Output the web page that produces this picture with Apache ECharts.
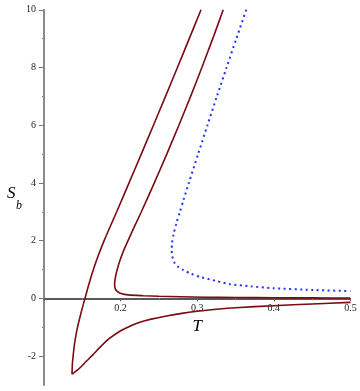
<!DOCTYPE html>
<html>
<head>
<meta charset="utf-8">
<script src="https://cdn.jsdelivr.net/npm/echarts@6/dist/echarts.min.js"></script>
<style>
  html, body { margin: 0; padding: 0; background: #fff; }
  #chart { width: 360px; height: 391px; }
</style>
</head>
<body>
<div id="chart"></div>
<script>
// curve data, [T, S_b]
const leftUpper = [
  [0.305, 10], [0.2896, 9], [0.2742, 8], [0.2586, 7], [0.2429, 6],
  [0.227, 5], [0.211, 4], [0.1949, 3], [0.1866, 2.5], [0.1785, 2],
  [0.1711, 1.5], [0.1645, 1], [0.1587, 0.5], [0.1535, 0], [0.1484, -0.5],
  [0.1438, -1], [0.1403, -1.5], [0.138, -2], [0.137, -2.3], [0.1366, -2.63]
]
const leftLower = [
  [0.1366, -2.63], [0.14, -2.56], [0.144, -2.48], [0.148, -2.38],
  [0.155, -2.19], [0.164, -1.95], [0.173, -1.7], [0.185, -1.4],
  [0.199, -1.14], [0.21, -0.99], [0.225, -0.83], [0.24, -0.72],
  [0.26, -0.61], [0.28, -0.52], [0.3, -0.45], [0.325, -0.38],
  [0.35, -0.325], [0.4, -0.255], [0.45, -0.195], [0.5, -0.14]
]
const middle = [
  [0.334, 10], [0.3203, 9], [0.3061, 8], [0.2914, 7], [0.2761, 6],
  [0.2603, 5], [0.244, 4], [0.2271, 3], [0.2183, 2.5], [0.2097, 2],
  [0.2042, 1.67], [0.199, 1.3], [0.1956, 1], [0.1934, 0.75], [0.1922, 0.52],
  [0.1928, 0.35], [0.1952, 0.25], [0.2005, 0.17], [0.21, 0.12],
  [0.2296, 0.09], [0.25, 0.07], [0.2775, 0.055], [0.31, 0.04],
  [0.35, 0.03], [0.4, 0.02], [0.45, 0.015], [0.5, 0.01]
]
const dotted = [
  [0.364, 10], [0.3511, 9], [0.3383, 8], [0.3257, 7], [0.3134, 6],
  [0.3012, 5], [0.2891, 4], [0.282, 3.4], [0.2775, 3], [0.2728, 2.6],
  [0.269, 2.2], [0.2671, 1.9], [0.2667, 1.65], [0.2675, 1.45],
  [0.27, 1.25], [0.2745, 1.1], [0.282, 0.98], [0.292, 0.85],
  [0.3036, 0.74], [0.3254, 0.6], [0.3428, 0.49], [0.37, 0.42],
  [0.3993, 0.35], [0.4516, 0.29], [0.5, 0.25]
]
const yMajor = [-2, 0, 2, 4, 6, 8, 10]
const yMinor = [-1, 1, 3, 5, 7, 9]
const yMin = -3
const yMax = 10

const serif = 'Liberation Serif'
const red = '#7a0a14'

const gridTop = 9.8
const gridBottom = 6.1
// the x axis sits on S = 0, so lift it from the grid bottom by that share of the height
const plotH = 391 - gridTop - gridBottom
const xAxisLift = plotH * (0 - yMin) / (yMax - yMin)

const chart = echarts.init(document.getElementById('chart'))
chart.setOption({
  animation: false,
  grid: { left: 44, right: 9.6, top: gridTop, bottom: gridBottom, containLabel: false, outerBoundsMode: 'none' },
  graphic: [
    { type: 'text', left: 7, top: 185, style: { text: 'S', font: 'italic 17px "Liberation Serif"', fill: '#000' } },
    { type: 'text', left: 16, top: 200, style: { text: 'b', font: 'italic 12px "Liberation Serif"', fill: '#000' } }
  ],
  xAxis: {
    type: 'value',
    min: 0.1,
    max: 0.5,
    interval: 0.1,
    position: 'bottom',
    offset: -xAxisLift,
    name: 'T',
    nameLocation: 'middle',
    nameGap: 18,
    nameTextStyle: { fontFamily: serif, fontStyle: 'italic', fontSize: 17, color: '#000' },
    axisLine: { onZero: false, lineStyle: { color: '#222', width: 1.5 } },
    axisTick: { length: 3, lineStyle: { color: '#666' } },
    minorTick: { show: true, splitNumber: 2, length: 2, lineStyle: { color: '#888' } },
    axisLabel: {
      margin: 5,
      fontFamily: serif,
      fontSize: 10,
      color: '#222',
      formatter: v => (v < 0.15 ? '' : String(+v.toFixed(1)))
    },
    splitLine: { show: false }
  },
  yAxis: [
    {
      type: 'value',
      min: yMin,
      max: yMax,
      interval: 1,
      axisLine: { show: true, onZero: false, lineStyle: { color: '#8a8a8a', width: 2 } },
      axisTick: { length: 5, customValues: yMajor, lineStyle: { color: '#777' } },
      axisLabel: { customValues: yMajor, fontFamily: serif, fontSize: 10, color: '#222' },
      splitLine: { show: false }
    },
    {
      type: 'value',
      min: yMin,
      max: yMax,
      interval: 1,
      position: 'left',
      axisLine: { show: false },
      axisTick: { length: 2, customValues: yMinor, lineStyle: { color: '#888' } },
      axisLabel: { show: false },
      splitLine: { show: false }
    }
  ],
  series: [
    { type: 'line', data: leftUpper, showSymbol: false, smooth: 0.25, lineStyle: { color: red, width: 1.6 } },
    { type: 'line', data: leftLower, showSymbol: false, smooth: 0.25, lineStyle: { color: red, width: 1.6 } },
    { type: 'line', data: middle, showSymbol: false, smooth: 0.25, lineStyle: { color: red, width: 1.6 } },
    { type: 'line', data: dotted, showSymbol: false, smooth: 0.25, lineStyle: { color: '#2233ff', width: 2, type: [2, 3.5] } }
  ]
})
</script>
</body>
</html>
